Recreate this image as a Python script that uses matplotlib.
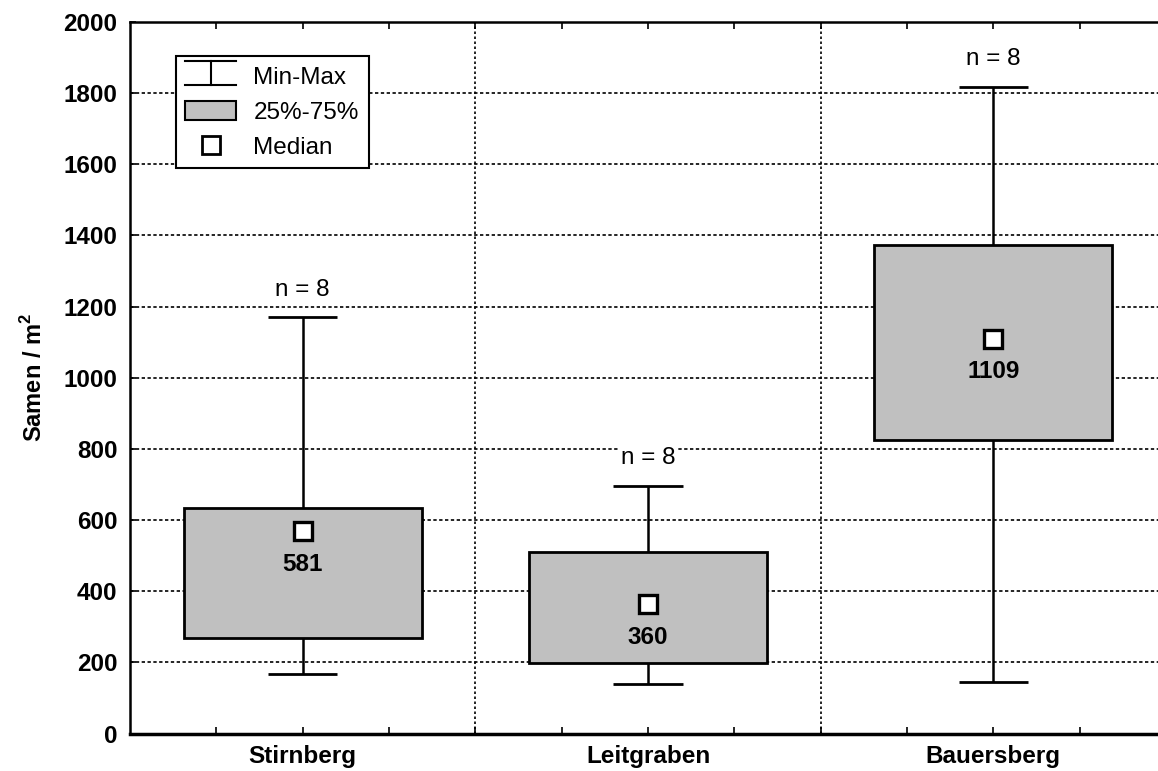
import matplotlib
matplotlib.use("Agg")
import matplotlib.pyplot as plt
from matplotlib.legend_handler import HandlerBase
from matplotlib.lines import Line2D
from matplotlib.patches import Rectangle

plt.rcParams['font.family'] = ['Liberation Sans', 'DejaVu Sans']
plt.rcParams['mathtext.fontset'] = 'custom'
plt.rcParams['mathtext.rm'] = 'Liberation Sans'
plt.rcParams['mathtext.bf'] = 'Liberation Sans:bold'

# data
sites = ["Stirnberg", "Leitgraben", "Bauersberg"]
minimum = [168, 140, 146]
q25 = [269, 197, 826]
median = [570, 363, 1110]
q75 = [635, 511, 1372]
maximum = [1170, 697, 1818]
median_labels = ["581", "360", "1109"]
n_labels = ["n = 8", "n = 8", "n = 8"]
yticks = [0, 200, 400, 600, 800, 1000, 1200, 1400, 1600, 1800, 2000]

box_gray = "#c0c0c0"
fs = 17.5


class WhiskerHandler(HandlerBase):
    # little "I" glyph with caps for the Min-Max entry
    def create_artists(self, legend, orig, xd, yd, w, h, fontsize, trans):
        cx = xd + w / 2
        y0 = yd - 0.1 * h
        y1 = yd + 1.1 * h
        top = Line2D([xd, xd + w], [y1, y1], color="black", lw=1.5, transform=trans)
        bot = Line2D([xd, xd + w], [y0, y0], color="black", lw=1.5, transform=trans)
        mid = Line2D([cx, cx], [y0, y1], color="black", lw=1.5, transform=trans)
        return [top, bot, mid]


fig = plt.figure(figsize=(11.58, 7.71), dpi=100)
ax = fig.add_axes([0.1123, 0.0486, 0.8946, 0.9228])

x = list(range(len(sites)))

# grid
for v in yticks[1:-1]:
    ax.axhline(v, color="black", lw=1.2, ls=(0, (2, 1.5)), zorder=1)
for b in [0.5, 1.5]:
    ax.axvline(b, color="black", lw=1.2, ls=(0, (1.5, 1.5)), zorder=1)

# whiskers
ax.vlines(x, minimum, maximum, color="black", lw=1.8, zorder=2)
ax.hlines(minimum, [i - 0.1 for i in x], [i + 0.1 for i in x], color="black", lw=2, zorder=2)
ax.hlines(maximum, [i - 0.1 for i in x], [i + 0.1 for i in x], color="black", lw=2, zorder=2)

# boxes
heights = [b - a for a, b in zip(q25, q75)]
ax.bar(x, heights, bottom=q25, width=0.69, color=box_gray, edgecolor="black", linewidth=2, zorder=3)

# medians
ax.plot(x, median, ls="none", marker="s", ms=13, mfc="white", mec="black", mew=2.4, zorder=4)

for i in x:
    ax.annotate(median_labels[i], (i, median[i]), xytext=(0, -24), textcoords="offset points",
                ha="center", va="center", fontsize=fs, fontweight="bold", zorder=5)
    ax.annotate(n_labels[i], (i, maximum[i]), xytext=(0, 20), textcoords="offset points",
                ha="center", va="center", fontsize=fs, zorder=5,
                bbox=dict(facecolor="white", edgecolor="none", pad=1))

ax.set_xlim(-0.5, 2.5)
ax.set_ylim(0, 2000)
ax.set_yticks(yticks)
ax.set_yticklabels([str(v) for v in yticks], fontsize=fs, fontweight="bold")
ax.set_xticks(x)
ax.set_xticklabels(sites, fontsize=fs, fontweight="bold")
ax.set_xticks([-0.25, 0.25, 0.5, 0.75, 1.25, 1.5, 1.75, 2.25], minor=True)
ax.tick_params(axis="x", which="both", direction="in", length=5, width=1.2, top=True, pad=8)
ax.tick_params(axis="y", which="both", direction="in", length=4, width=1.2, pad=9)

ax.spines["right"].set_visible(False)
ax.spines["bottom"].set_linewidth(2.5)
ax.spines["left"].set_linewidth(1.8)
ax.spines["left"].set_linestyle((0, (3, 1)))
ax.spines["top"].set_linewidth(1.8)
ax.spines["top"].set_linestyle((0, (3, 1)))

ax.set_ylabel(r"Samen / m$^{\mathbf{2}}$", fontsize=17, fontweight="bold", labelpad=12)

handles = [Line2D([], []), Rectangle((0, 0), 1, 1, facecolor=box_gray, edgecolor="black", lw=1.5),
           Line2D([], [], ls="none", marker="s", ms=13, mfc="white", mec="black", mew=2)]
leg = ax.legend(handles, ["Min-Max", "25%-75%", "Median"], loc="upper left",
                bbox_to_anchor=(0.044, 0.952), fontsize=fs, frameon=True, fancybox=False,
                handler_map={handles[0]: WhiskerHandler()},
                handlelength=2.1, handleheight=0.85, handletextpad=0.7, borderpad=0.4,
                labelspacing=0.48, borderaxespad=0)
leg.get_frame().set_edgecolor("black")
leg.get_frame().set_linewidth(1.5)
leg.get_frame().set_alpha(1)
leg.set_zorder(6)

plt.savefig("out.png", dpi=100)
